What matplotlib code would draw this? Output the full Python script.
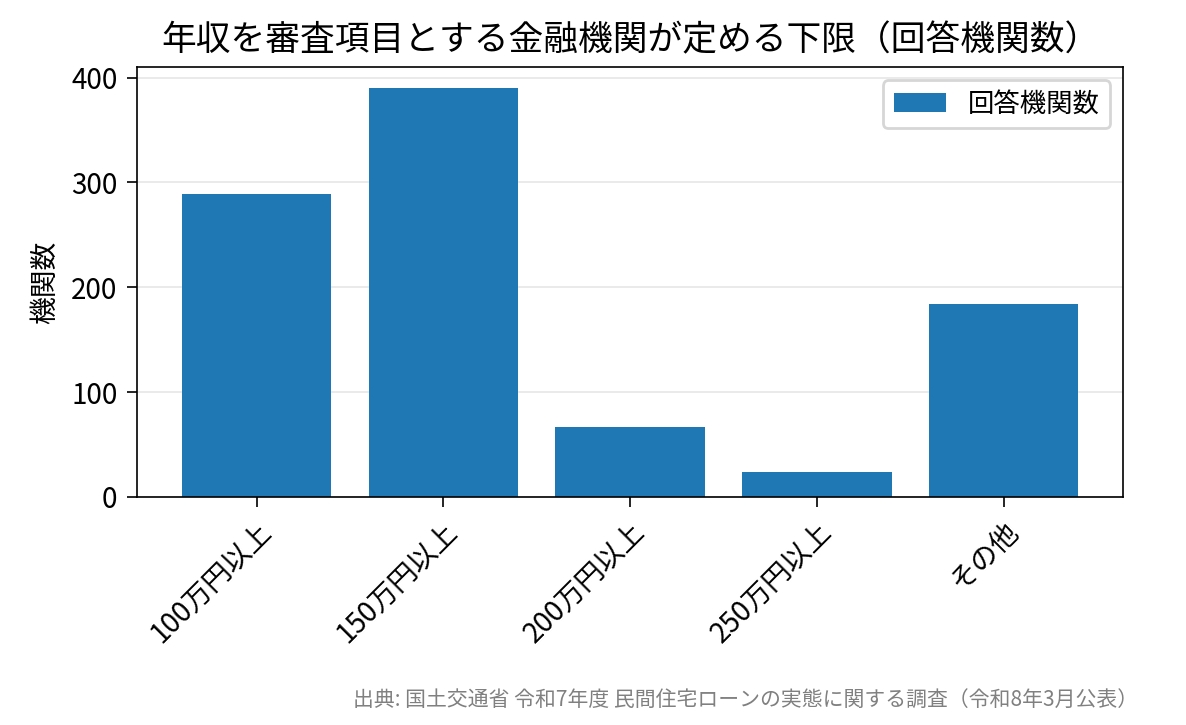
import matplotlib
matplotlib.use("Agg")
import matplotlib.pyplot as plt

plt.rcParams['font.family'] = ['Noto Sans CJK JP', 'DejaVu Sans']

categories = ["100万円以上", "150万円以上", "200万円以上", "250万円以上", "その他"]
values = [289, 390, 67, 24, 184]

fig = plt.figure(figsize=(5.93, 3.625), dpi=200)
ax = fig.add_axes([0.1155, 0.3145, 0.8315, 0.593])
ax.bar(categories, values, color="#1f77b4", label="回答機関数", width=0.8)
ax.set_ylim(0, 410)
ax.set_yticks([0, 100, 200, 300, 400])
ax.grid(axis='y', color='#e6e6e6', linewidth=0.6)
ax.set_axisbelow(True)
ax.tick_params(labelsize=10, width=0.6)
for s in ax.spines.values():
    s.set_linewidth(0.6)
plt.setp(ax.get_xticklabels(), rotation=45, ha='right', rotation_mode='anchor')
ax.set_ylabel("機関数", fontsize=10)
ax.set_title("年収を審査項目とする金融機関が定める下限（回答機関数）", fontsize=12.5)
ax.legend(fontsize=9.5, loc='upper right')
fig.text(0.96, 0.02, "出典: 国土交通省 令和7年度 民間住宅ローンの実態に関する調査（令和8年3月公表）",
         ha='right', va='bottom', fontsize=7.5, color='gray')
fig.savefig("out.png", dpi=200)
